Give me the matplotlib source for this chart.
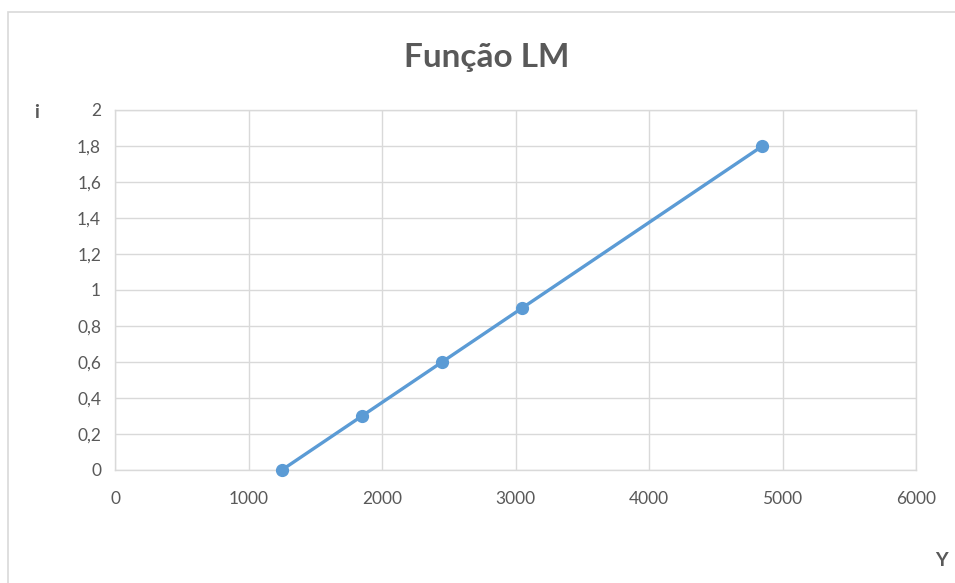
import matplotlib
matplotlib.use('Agg')
import matplotlib.pyplot as plt
from matplotlib.patches import Rectangle

plt.rcParams['font.family'] = ['Lato', 'DejaVu Sans']

# dados da curva LM
renda_y = [1250, 1850, 2450, 3050, 4850]
juros_i = [0, 0.3, 0.6, 0.9, 1.8]
x_ticks = [0, 1000, 2000, 3000, 4000, 5000, 6000]
y_ticks = [0, 0.2, 0.4, 0.6, 0.8, 1, 1.2, 1.4, 1.6, 1.8, 2]
y_labels = ['0', '0,2', '0,4', '0,6', '0,8', '1', '1,2', '1,4', '1,6', '1,8', '2']

W, H = 955, 583
fig = plt.figure(figsize=(W / 100, H / 100), dpi=100)

# borda da area do grafico (so topo e esquerda aparecem)
fig.add_artist(Rectangle((8 / W, -0.1), 1.2, 1 - 12 / H + 0.1, transform=fig.transFigure,
                         fill=False, edgecolor='#d9d9d9', linewidth=1.2))

ax = fig.add_axes([115 / W, 1 - 470 / H, 801 / W, 360 / H])
ax.plot(renda_y, juros_i, color='#5b9bd5', linewidth=2.4, marker='o',
        markersize=8.5, markerfacecolor='#5b9bd5', markeredgecolor='#5b9bd5',
        solid_capstyle='round', clip_on=False, zorder=3)

ax.set_xlim(0, 6000)
ax.set_ylim(0, 2)
ax.set_xticks(x_ticks)
ax.set_xticklabels([str(v) for v in x_ticks])
ax.set_yticks(y_ticks)
ax.set_yticklabels(y_labels)
ax.grid(True, color='#d9d9d9', linewidth=1.0)
ax.set_axisbelow(True)
for s in ax.spines.values():
    s.set_color('#d9d9d9')
    s.set_linewidth(1.0)
ax.tick_params(length=0, labelsize=12.5, colors='#595959')
ax.tick_params(axis='x', pad=15)
ax.tick_params(axis='y', pad=10)

fig.text(487 / W, 1 - 57 / H, 'Função LM', ha='center', va='center',
         fontsize=24, fontweight='bold', color='#595959')
fig.text(37 / W, 1 - 112 / H, 'i', ha='center', va='center',
         fontsize=14, fontweight='bold', color='#595959')
fig.text(941 / W, 1 - 561 / H, 'Y', ha='center', va='center',
         fontsize=14, fontweight='bold', color='#595959')

fig.savefig('out.png', dpi=100)
